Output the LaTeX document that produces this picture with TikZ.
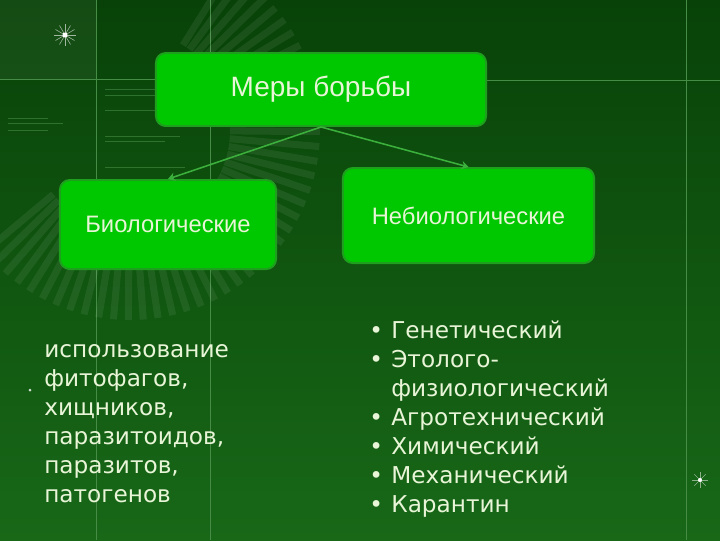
\documentclass[tikz,border=0pt]{standalone}
\usepackage{fontspec}
\setmainfont{DejaVu Sans}
\newfontfamily\arialfont{Liberation Sans}
\usetikzlibrary{positioning,arrows.meta}

\definecolor{bgtop}{RGB}{8,66,8}
\definecolor{bgbot}{RGB}{24,104,24}
\definecolor{boxfill}{RGB}{0,200,0}
\definecolor{boxedge}{RGB}{30,160,30}
\definecolor{arrowgreen}{RGB}{60,176,60}
\definecolor{lighttext}{RGB}{232,245,215}
\definecolor{faintline}{RGB}{70,140,70}

\tikzset{
  box/.style={draw=boxedge, line width=1.4pt, fill=boxfill, rounded corners=7pt,
    text=lighttext, font=\arialfont\fontsize{16.9}{19}\selectfont},
  arr/.style={draw=arrowgreen, line width=1.1pt, -{Stealth[length=5pt,width=6pt]}},
  listtext/.style={text=lighttext, align=left, inner sep=0pt,
    font=\fontsize{16.5}{20.6}\selectfont},
  sparkle/.style={white, line width=0.4pt}
}

\begin{document}
\begin{tikzpicture}[x=0.025cm,y=-0.025cm]
% background
\shade[top color=bgtop, bottom color=bgbot] (0,0) rectangle (720,540);
\fill[white, opacity=0.05] (0,0) rectangle (96,79);
\useasboundingbox (0,0) rectangle (720,540);
\foreach \xx in {96,210,686}
  \draw[faintline, line width=0.4pt] (\xx,0) -- (\xx,540);
\draw[faintline, line width=0.4pt] (0,79) -- (210,79);
\draw[faintline, line width=0.4pt] (486,80) -- (720,80);
% faint panel lines
\foreach \yy/\len in {118/40,123/55,130/40}
  \draw[faintline, opacity=0.6, line width=0.5pt] (8,\yy) -- ++(\len,0);
\foreach \yy/\len in {89/50,95/50,110/50,136/75,141/60,167/80}
  \draw[faintline, opacity=0.6, line width=0.5pt] (105,\yy) -- ++(\len,0);
% rays
\foreach \a in {-58,-53.5,...,142}
  \draw[white, opacity=0.07, line width=5pt] (130,130) ++(\a:100) -- ++(\a:90);
% sparkles
\foreach \a in {0,30,...,330}
  \draw[sparkle, opacity=0.6] (65,35) -- ++(\a:11);
\fill[white] (65,35) circle (2.5);
\foreach \a in {0,45,...,315}
  \draw[sparkle, opacity=0.5] (700,480) -- ++(\a:8);
\fill[white] (700,480) circle (2);
\fill[white, opacity=0.8] (30,390) circle (1.5);

% boxes
\node[box, minimum width=8.25cm, minimum height=1.825cm,
  font=\arialfont\fontsize{19.9}{22}\selectfont] (mery) at (321,89.5) {\raisebox{-2pt}{Меры борьбы}};
\node[box, minimum width=5.4cm, minimum height=2.225cm] (bio) at (168,224.5) {Биологические};
\node[box, minimum width=6.275cm, minimum height=2.375cm] (nebio) at (468.5,215.5) {Небиологические};

\draw[arr] (mery.south) -- (bio.north);
\draw[arr] (mery.south) -- (nebio.north);

% lists
\node[listtext, anchor=north west] (biolist) at (44,344)
  {использование\\фитофагов,\\хищников,\\паразитоидов,\\паразитов,\\патогенов};
\node[listtext, anchor=north west] (nebiolist) at (369,321)
  {\makebox[0.55cm][l]{•}Генетический\\
   \makebox[0.55cm][l]{•}Этолого-\\
   \makebox[0.55cm][l]{}физиологический\\
   \makebox[0.55cm][l]{•}Агротехнический\\
   \makebox[0.55cm][l]{•}Химический\\
   \makebox[0.55cm][l]{•}Механический\\
   \makebox[0.55cm][l]{•}Карантин};
\end{tikzpicture}
\end{document}
